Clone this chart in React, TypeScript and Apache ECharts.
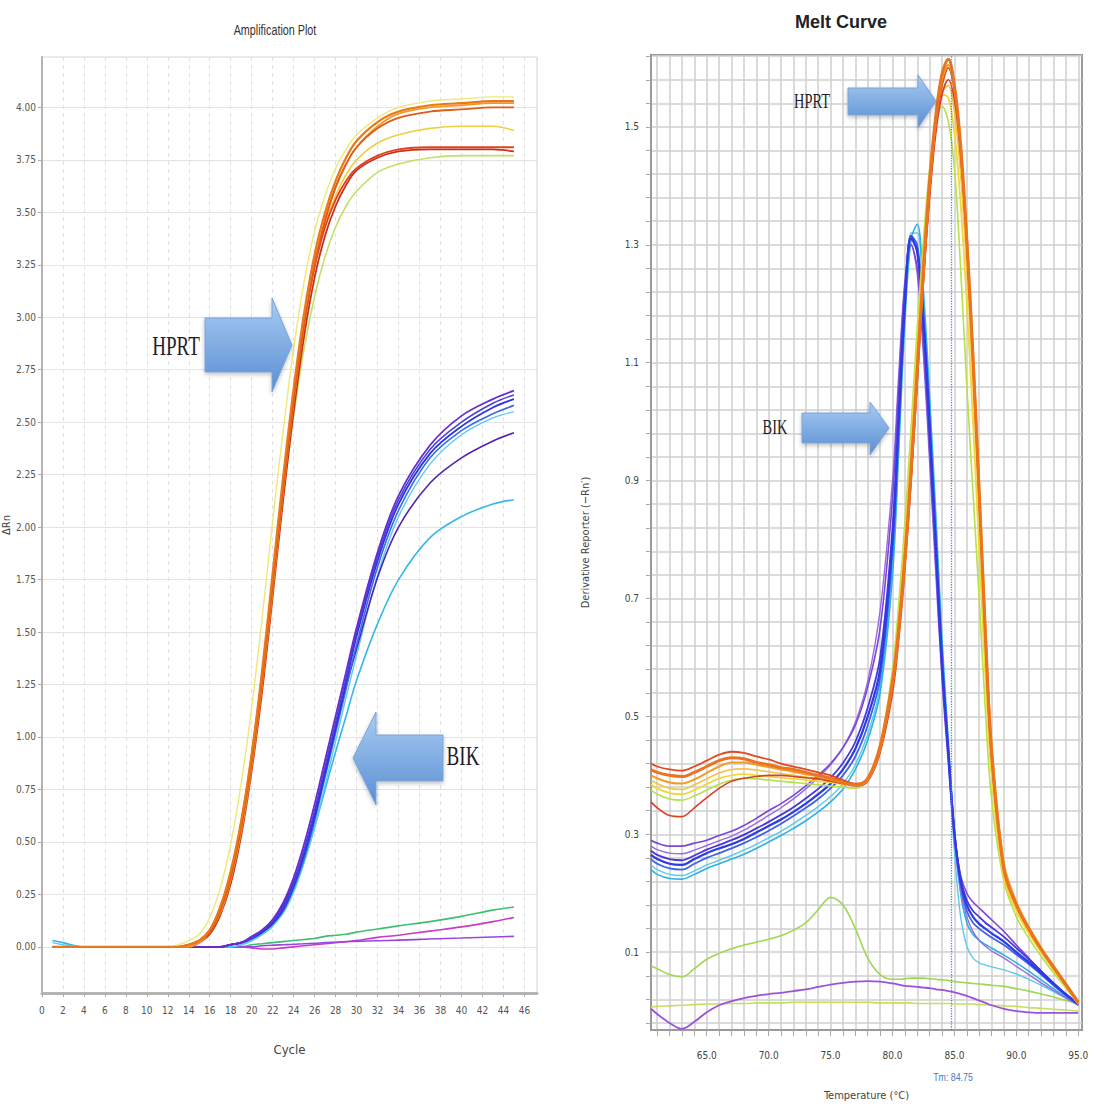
import React, { useEffect, useRef } from "react";
import * as echarts from "echarts";

// ---------- Amplification plot data ----------
const ampCycles = [1, 2, 4, 8, 12, 13, 14, 15, 16, 17, 18, 19, 20, 21, 22, 23, 24, 25, 26, 27, 28, 29, 30, 32, 34, 37, 40, 43, 45];
const ampYTicks = [0, 0.25, 0.5, 0.75, 1, 1.25, 1.5, 1.75, 2, 2.25, 2.5, 2.75, 3, 3.25, 3.5, 3.75, 4];

const ampH1 = [0, 0, 0, 0, 0, 0, 0.01, 0.03, 0.08, 0.19, 0.36, 0.6, 0.92, 1.32, 1.78, 2.24, 2.66, 3.02, 3.3, 3.5, 3.65, 3.76, 3.84, 3.93, 3.98, 4.01, 4.02, 4.03, 4.03];
const ampH2 = [0, 0, 0, 0, 0, 0, 0.01, 0.03, 0.07, 0.17, 0.33, 0.57, 0.88, 1.27, 1.72, 2.18, 2.6, 2.96, 3.25, 3.46, 3.62, 3.73, 3.81, 3.9, 3.95, 3.98, 3.99, 4.0, 4.0];
const ampH3 = [0, 0, 0, 0, 0, 0, 0.01, 0.03, 0.08, 0.18, 0.35, 0.59, 0.91, 1.3, 1.76, 2.21, 2.62, 2.97, 3.24, 3.43, 3.56, 3.65, 3.71, 3.77, 3.8, 3.81, 3.81, 3.81, 3.81];
const ampH4 = [0, 0, 0, 0, 0, 0, 0.0, 0.02, 0.06, 0.15, 0.3, 0.53, 0.84, 1.22, 1.67, 2.13, 2.55, 2.91, 3.19, 3.39, 3.53, 3.63, 3.7, 3.76, 3.79, 3.8, 3.8, 3.8, 3.79];
const ampH5 = [0, 0, 0, 0, 0, 0, 0.01, 0.03, 0.08, 0.19, 0.36, 0.6, 0.92, 1.31, 1.76, 2.21, 2.62, 2.97, 3.24, 3.44, 3.58, 3.68, 3.75, 3.83, 3.87, 3.9, 3.91, 3.91, 3.89];
const ampH6 = [0, 0, 0, 0, 0, 0, 0.01, 0.03, 0.08, 0.18, 0.35, 0.58, 0.9, 1.28, 1.72, 2.15, 2.53, 2.85, 3.1, 3.29, 3.43, 3.53, 3.6, 3.69, 3.73, 3.76, 3.77, 3.77, 3.77];
const ampH7 = [0, 0, 0, 0, 0, 0.01, 0.03, 0.06, 0.14, 0.28, 0.49, 0.78, 1.14, 1.57, 2.03, 2.46, 2.85, 3.17, 3.41, 3.58, 3.71, 3.8, 3.87, 3.95, 4.0, 4.03, 4.04, 4.05, 4.05];
const ampH8 = [0, 0, 0, 0, 0, 0, 0.0, 0.02, 0.07, 0.16, 0.32, 0.55, 0.86, 1.25, 1.7, 2.17, 2.6, 2.97, 3.26, 3.47, 3.62, 3.73, 3.81, 3.91, 3.97, 4.0, 4.01, 4.02, 4.02];

const ampB1 = [0, 0, 0, 0, 0, 0, 0, 0, 0, 0.0, 0.01, 0.02, 0.04, 0.07, 0.11, 0.18, 0.29, 0.44, 0.62, 0.83, 1.04, 1.26, 1.48, 1.84, 2.11, 2.35, 2.48, 2.57, 2.61];
const ampB2 = [0, 0, 0, 0, 0, 0, 0, 0, 0, 0.0, 0.01, 0.02, 0.05, 0.08, 0.13, 0.21, 0.33, 0.49, 0.68, 0.89, 1.1, 1.31, 1.52, 1.88, 2.15, 2.39, 2.53, 2.61, 2.65];
const ampB3 = [0, 0, 0, 0, 0, 0, 0, 0, 0, 0.0, 0.01, 0.02, 0.04, 0.07, 0.12, 0.2, 0.31, 0.46, 0.64, 0.84, 1.04, 1.24, 1.42, 1.76, 2.0, 2.21, 2.33, 2.41, 2.45];
const ampB4 = [0.03, 0.02, 0.0, 0, 0, 0, 0, 0, 0, 0.0, 0.0, 0.01, 0.03, 0.06, 0.1, 0.17, 0.27, 0.41, 0.57, 0.75, 0.93, 1.1, 1.27, 1.54, 1.75, 1.95, 2.05, 2.11, 2.13];
const ampB5 = [0.02, 0.01, 0, 0, 0, 0, 0, 0, 0, 0.0, 0.0, 0.01, 0.03, 0.06, 0.1, 0.16, 0.26, 0.4, 0.57, 0.77, 0.98, 1.19, 1.39, 1.77, 2.05, 2.3, 2.44, 2.52, 2.55];
const ampB6 = [0, 0, 0, 0, 0, 0, 0, 0, 0, 0.0, 0.01, 0.02, 0.04, 0.07, 0.11, 0.17, 0.28, 0.42, 0.6, 0.81, 1.02, 1.23, 1.44, 1.81, 2.08, 2.33, 2.46, 2.54, 2.58];
const ampB7 = [0, 0, 0, 0, 0, 0, 0, 0, 0, 0.0, 0.01, 0.02, 0.04, 0.08, 0.12, 0.19, 0.3, 0.46, 0.65, 0.86, 1.07, 1.28, 1.5, 1.86, 2.13, 2.37, 2.5, 2.59, 2.63];

const ampL1 = [0, 0, 0, 0, 0, 0, 0, 0, 0, 0, 0, 0.0, 0.01, 0.015, 0.02, 0.025, 0.03, 0.035, 0.04, 0.05, 0.055, 0.06, 0.07, 0.085, 0.1, 0.12, 0.145, 0.175, 0.19];
const ampL2 = [0, 0, 0, 0, 0, 0, 0, 0, 0, 0, 0, 0.0, -0.005, -0.01, -0.01, -0.005, 0.0, 0.005, 0.01, 0.015, 0.02, 0.025, 0.03, 0.045, 0.055, 0.075, 0.095, 0.12, 0.14];
const ampL3 = [0, 0, 0, 0, 0, 0, 0, 0, 0, 0, 0, 0.0, 0.0, 0.005, 0.008, 0.01, 0.012, 0.015, 0.017, 0.02, 0.022, 0.024, 0.026, 0.029, 0.032, 0.037, 0.042, 0.047, 0.05];

// ---------- Melt curve data ----------
const meltTemps = [60.5, 61, 62, 63, 64, 65, 66, 67, 68, 69, 70, 71, 72, 73, 74, 75, 76, 77, 78, 79, 80, 80.5, 81, 81.5, 82, 82.5, 83, 83.5, 84, 84.5, 85, 85.5, 86, 86.5, 87, 87.5, 88, 89, 90, 91, 92, 93, 94, 95];
const meltXTicks = [61, 62, 63, 64, 65, 66, 67, 68, 69, 70, 71, 72, 73, 74, 75, 76, 77, 78, 79, 80, 81, 82, 83, 84, 85, 86, 87, 88, 89, 90, 91, 92, 93, 94, 95];
const meltXLabels = [65, 70, 75, 80, 85, 90, 95];
const meltYTicks = [-0.02, 0.02, 0.06, 0.1, 0.14, 0.18, 0.22, 0.26, 0.3, 0.34, 0.38, 0.42, 0.46, 0.5, 0.54, 0.58, 0.62, 0.66, 0.7, 0.74, 0.78, 0.82, 0.86, 0.9, 0.94, 0.98, 1.02, 1.06, 1.1, 1.14, 1.18, 1.22, 1.26, 1.3, 1.34, 1.38, 1.42, 1.46, 1.5, 1.54, 1.58, 1.62];
const meltYLabels = [0.1, 0.3, 0.5, 0.7, 0.9, 1.1, 1.3, 1.5];
const tmValue = 84.75;

const meltH1 = [0.41, 0.405, 0.4, 0.398, 0.405, 0.415, 0.425, 0.43, 0.428, 0.422, 0.418, 0.413, 0.41, 0.405, 0.4, 0.395, 0.388, 0.384, 0.395, 0.45, 0.56, 0.65, 0.77, 0.92, 1.09, 1.26, 1.41, 1.52, 1.59, 1.615, 1.57, 1.47, 1.31, 1.11, 0.88, 0.64, 0.44, 0.24, 0.18, 0.14, 0.105, 0.075, 0.045, 0.015];
const meltH2 = [0.42, 0.415, 0.41, 0.408, 0.415, 0.425, 0.435, 0.44, 0.438, 0.432, 0.427, 0.42, 0.415, 0.41, 0.405, 0.4, 0.392, 0.386, 0.392, 0.44, 0.54, 0.63, 0.75, 0.9, 1.07, 1.24, 1.39, 1.5, 1.57, 1.6, 1.56, 1.46, 1.3, 1.1, 0.87, 0.63, 0.43, 0.24, 0.18, 0.138, 0.104, 0.073, 0.044, 0.014];
const meltH3 = [0.355, 0.345, 0.332, 0.33, 0.345, 0.362, 0.378, 0.39, 0.395, 0.398, 0.4, 0.4, 0.398, 0.396, 0.394, 0.39, 0.386, 0.382, 0.39, 0.44, 0.55, 0.64, 0.76, 0.9, 1.07, 1.24, 1.38, 1.49, 1.555, 1.58, 1.545, 1.45, 1.3, 1.1, 0.88, 0.65, 0.45, 0.245, 0.182, 0.142, 0.107, 0.076, 0.046, 0.016];
const meltH4 = [0.385, 0.378, 0.37, 0.368, 0.375, 0.385, 0.395, 0.4, 0.402, 0.4, 0.398, 0.396, 0.394, 0.392, 0.39, 0.388, 0.385, 0.383, 0.395, 0.45, 0.57, 0.67, 0.8, 0.96, 1.13, 1.29, 1.42, 1.51, 1.555, 1.55, 1.49, 1.37, 1.2, 1.0, 0.78, 0.57, 0.4, 0.225, 0.17, 0.132, 0.1, 0.07, 0.042, 0.013];
const meltH5 = [0.375, 0.368, 0.36, 0.358, 0.365, 0.375, 0.385, 0.392, 0.395, 0.394, 0.392, 0.39, 0.388, 0.386, 0.384, 0.382, 0.38, 0.378, 0.392, 0.45, 0.58, 0.69, 0.83, 0.99, 1.16, 1.31, 1.43, 1.505, 1.535, 1.51, 1.43, 1.26, 1.06, 0.88, 0.7, 0.51, 0.36, 0.22, 0.16, 0.124, 0.093, 0.065, 0.039, 0.012];
const meltH6 = [0.4, 0.395, 0.388, 0.386, 0.393, 0.404, 0.415, 0.422, 0.422, 0.418, 0.414, 0.41, 0.406, 0.402, 0.398, 0.393, 0.387, 0.383, 0.392, 0.445, 0.555, 0.645, 0.765, 0.915, 1.085, 1.255, 1.4, 1.51, 1.58, 1.605, 1.565, 1.47, 1.315, 1.12, 0.895, 0.655, 0.455, 0.25, 0.185, 0.143, 0.108, 0.077, 0.047, 0.016];
const meltH7 = [0.392, 0.386, 0.378, 0.376, 0.384, 0.394, 0.404, 0.41, 0.411, 0.409, 0.406, 0.403, 0.4, 0.397, 0.394, 0.391, 0.387, 0.384, 0.394, 0.448, 0.565, 0.66, 0.785, 0.94, 1.11, 1.275, 1.41, 1.505, 1.56, 1.57, 1.525, 1.42, 1.26, 1.06, 0.84, 0.61, 0.42, 0.232, 0.175, 0.136, 0.102, 0.072, 0.043, 0.014];

const meltB1 = [0.265, 0.258, 0.25, 0.248, 0.258, 0.268, 0.276, 0.283, 0.292, 0.303, 0.314, 0.325, 0.338, 0.352, 0.368, 0.386, 0.41, 0.445, 0.5, 0.58, 0.8, 1.0, 1.2, 1.31, 1.29, 1.17, 0.99, 0.79, 0.59, 0.44, 0.3, 0.22, 0.18, 0.16, 0.148, 0.14, 0.132, 0.118, 0.1, 0.083, 0.065, 0.046, 0.028, 0.012];
const meltB2 = [0.29, 0.285, 0.28, 0.28, 0.285, 0.29, 0.298, 0.305, 0.315, 0.327, 0.34, 0.352, 0.366, 0.382, 0.4, 0.42, 0.447, 0.485, 0.55, 0.65, 0.87, 1.06, 1.23, 1.3, 1.26, 1.13, 0.95, 0.76, 0.57, 0.43, 0.3, 0.23, 0.2, 0.185, 0.175, 0.165, 0.155, 0.135, 0.112, 0.09, 0.068, 0.047, 0.029, 0.013];
const meltB3 = [0.24, 0.232, 0.225, 0.224, 0.232, 0.242, 0.25, 0.258, 0.266, 0.276, 0.287, 0.298, 0.31, 0.323, 0.338, 0.355, 0.377, 0.41, 0.46, 0.54, 0.74, 0.95, 1.17, 1.31, 1.335, 1.22, 1.04, 0.84, 0.63, 0.46, 0.3, 0.2, 0.15, 0.13, 0.12, 0.113, 0.107, 0.095, 0.082, 0.068, 0.053, 0.038, 0.024, 0.01];
const meltB4 = [0.258, 0.25, 0.242, 0.24, 0.25, 0.26, 0.268, 0.276, 0.285, 0.295, 0.306, 0.318, 0.331, 0.345, 0.36, 0.378, 0.4, 0.432, 0.485, 0.565, 0.78, 0.985, 1.19, 1.315, 1.3, 1.185, 1.005, 0.805, 0.605, 0.45, 0.305, 0.215, 0.17, 0.15, 0.14, 0.132, 0.125, 0.112, 0.096, 0.08, 0.062, 0.044, 0.027, 0.011];
const meltB5 = [0.248, 0.24, 0.232, 0.23, 0.238, 0.248, 0.256, 0.264, 0.273, 0.283, 0.294, 0.305, 0.318, 0.332, 0.347, 0.364, 0.386, 0.418, 0.47, 0.55, 0.76, 0.965, 1.18, 1.32, 1.32, 1.2, 1.02, 0.82, 0.61, 0.44, 0.27, 0.16, 0.11, 0.09, 0.082, 0.078, 0.075, 0.07, 0.063, 0.054, 0.044, 0.033, 0.022, 0.01];
const meltB6 = [0.272, 0.265, 0.258, 0.256, 0.264, 0.274, 0.282, 0.29, 0.299, 0.31, 0.321, 0.333, 0.346, 0.361, 0.377, 0.396, 0.421, 0.457, 0.515, 0.6, 0.82, 1.02, 1.215, 1.315, 1.285, 1.16, 0.98, 0.78, 0.585, 0.44, 0.305, 0.225, 0.188, 0.17, 0.16, 0.15, 0.142, 0.126, 0.107, 0.088, 0.068, 0.048, 0.029, 0.012];
const meltB7 = [0.28, 0.274, 0.268, 0.267, 0.273, 0.281, 0.289, 0.297, 0.307, 0.319, 0.332, 0.345, 0.36, 0.377, 0.396, 0.418, 0.447, 0.49, 0.56, 0.68, 0.9, 1.08, 1.24, 1.3, 1.25, 1.11, 0.93, 0.74, 0.56, 0.42, 0.29, 0.205, 0.16, 0.135, 0.12, 0.11, 0.102, 0.09, 0.076, 0.062, 0.048, 0.035, 0.022, 0.01];

const meltL1 = [0.076, 0.072, 0.062, 0.058, 0.072, 0.088, 0.098, 0.106, 0.112, 0.117, 0.122, 0.128, 0.137, 0.15, 0.172, 0.193, 0.18, 0.14, 0.09, 0.062, 0.054, 0.054, 0.055, 0.056, 0.056, 0.056, 0.055, 0.054, 0.053, 0.052, 0.05, 0.049, 0.048, 0.047, 0.046, 0.045, 0.044, 0.042, 0.038, 0.034, 0.029, 0.024, 0.018, 0.013];
const meltL2 = [0.004, -0.005, -0.02, -0.03, -0.018, -0.002, 0.01, 0.017, 0.022, 0.026, 0.029, 0.031, 0.034, 0.037, 0.041, 0.045, 0.048, 0.05, 0.051, 0.05, 0.047, 0.045, 0.043, 0.042, 0.041, 0.04, 0.039, 0.037, 0.036, 0.034, 0.032, 0.029, 0.026, 0.022, 0.018, 0.014, 0.01, 0.004, 0.0, -0.002, -0.003, -0.003, -0.003, -0.003];
const meltL3 = [0.007, 0.008, 0.009, 0.01, 0.011, 0.012, 0.012, 0.013, 0.013, 0.014, 0.014, 0.014, 0.015, 0.015, 0.015, 0.015, 0.015, 0.015, 0.015, 0.014, 0.014, 0.014, 0.014, 0.014, 0.013, 0.013, 0.013, 0.013, 0.013, 0.013, 0.012, 0.012, 0.012, 0.012, 0.011, 0.011, 0.01, 0.009, 0.008, 0.006, 0.005, 0.003, 0.002, 0.0];

const NARROW = "'Liberation Sans Narrow', 'DejaVu Sans Condensed', 'Roboto Condensed', sans-serif";

function buildOption() {
  const ampSeries = [
    { d: ampL1, c: "#3cc070", w: 1.6 },
    { d: ampL2, c: "#c43cc8", w: 1.6 },
    { d: ampL3, c: "#9b45e0", w: 1.6 },
    { d: ampB4, c: "#34b8ea", w: 1.6 },
    { d: ampB5, c: "#5ccaf0", w: 1.4 },
    { d: ampB3, c: "#5222b4", w: 1.6 },
    { d: ampB6, c: "#3a6ae8", w: 1.6 },
    { d: ampB1, c: "#3030e0", w: 1.8 },
    { d: ampB7, c: "#4444d8", w: 1.6 },
    { d: ampB2, c: "#6a2ad0", w: 1.8 },
    { d: ampH7, c: "#eee87a", w: 1.4 },
    { d: ampH6, c: "#c4e064", w: 1.6 },
    { d: ampH5, c: "#eed040", w: 1.6 },
    { d: ampH4, c: "#c8301c", w: 1.8 },
    { d: ampH3, c: "#e0401c", w: 1.8 },
    { d: ampH8, c: "#f39a20", w: 1.8 },
    { d: ampH2, c: "#e25a18", w: 1.8 },
    { d: ampH1, c: "#e8781a", w: 2.2 },
  ].map((s, i) => ({
    type: "line",
    name: "amp" + i,
    xAxisIndex: 0,
    yAxisIndex: 0,
    data: ampCycles.map((c, k) => [c, s.d[k]]),
    smooth: 0.35,
    showSymbol: false,
    symbol: "none",
    silent: true,
    lineStyle: { color: s.c, width: s.w },
    z: 3,
  }));

  const meltSeries = [
    { d: meltL3, c: "#c4e060", w: 1.6 },
    { d: meltL2, c: "#9a52d8", w: 1.8 },
    { d: meltL1, c: "#9cd850", w: 1.6 },
    { d: meltB5, c: "#5cc8ee", w: 1.4 },
    { d: meltB3, c: "#2ab2e6", w: 1.6 },
    { d: meltB7, c: "#9a6ae0", w: 1.4 },
    { d: meltB2, c: "#7b45d6", w: 1.6 },
    { d: meltB4, c: "#3d62ee", w: 1.8 },
    { d: meltB6, c: "#4a35dc", w: 1.8 },
    { d: meltB1, c: "#2b3ce0", w: 2.2 },
    { d: meltH5, c: "#b8e04a", w: 1.6 },
    { d: meltH4, c: "#f0d838", w: 1.8 },
    { d: meltH7, c: "#f4c440", w: 1.6 },
    { d: meltH3, c: "#d8402a", w: 1.6 },
    { d: meltH2, c: "#e04a20", w: 1.8 },
    { d: meltH6, c: "#f29a2a", w: 2 },
    { d: meltH1, c: "#ea7420", w: 3 },
  ].map((s, i) => ({
    type: "line",
    name: "melt" + i,
    xAxisIndex: 1,
    yAxisIndex: 1,
    data: meltTemps.map((t, k) => [t, s.d[k]]),
    smooth: 0.35,
    showSymbol: false,
    symbol: "none",
    silent: true,
    lineStyle: { color: s.c, width: s.w },
    z: 3,
  }));

  (meltSeries[0] as any).markLine = {
    silent: true,
    symbol: "none",
    label: { show: false },
    lineStyle: { type: "dotted", color: "#5b84c8", width: 1.3 },
    data: [{ xAxis: tmValue }],
  };

  const arrowFill = () =>
    new echarts.graphic.LinearGradient(0, 0, 0, 1, [
      { offset: 0, color: "#a8ccf2" },
      { offset: 1, color: "#5a8ed3" },
    ]);
  const arrowStyle = () => ({
    fill: arrowFill(),
    stroke: "#7aa3d8",
    lineWidth: 1,
    shadowBlur: 4,
    shadowOffsetY: 2,
    shadowColor: "rgba(0,0,0,0.25)",
  });

  return {
    animation: false,
    backgroundColor: "#ffffff",
    textStyle: { fontFamily: "'Liberation Sans', Arial, sans-serif" },
    grid: [
      { left: 40, top: 57, width: 497, height: 936, show: true, borderColor: "#d6d6d6", borderWidth: 1, backgroundColor: "#ffffff" },
      { left: 651, top: 55, width: 431, height: 975, show: true, borderColor: "#9a9a9a", borderWidth: 2, backgroundColor: "#ffffff" },
    ],
    xAxis: [
      {
        type: "value",
        gridIndex: 0,
        min: 0,
        max: 47.2,
        interval: 2,
        axisLine: { show: true, onZero: false, lineStyle: { color: "#b4b4b4", width: 3 } },
        axisTick: { show: true, length: 4, lineStyle: { color: "#aaaaaa" } },
        axisLabel: { showMaxLabel: false, fontSize: 10, color: "#555", margin: 12, fontFamily: NARROW, formatter: (v: number) => String(v) },
        splitLine: { show: true, lineStyle: { color: "#e0e0e0", type: [4, 4], width: 1 } },
        name: "Cycle",
        nameLocation: "middle",
        nameGap: 50,
        nameTextStyle: { fontSize: 13, color: "#444", fontFamily: NARROW },
      },
      {
        type: "value",
        gridIndex: 1,
        min: 60.5,
        max: 95.3,
        axisLine: { show: true, onZero: false, lineStyle: { color: "#9a9a9a", width: 2 } },
        axisTick: { show: true, length: 6, customValues: meltXTicks, lineStyle: { color: "#aaaaaa" } },
        axisLabel: { customValues: meltXLabels, fontSize: 10, color: "#444", margin: 20, fontFamily: NARROW, formatter: (v: number) => v.toFixed(1) },
        splitLine: { show: true, lineStyle: { color: "#cfcfcf", width: 1.5 } },
        name: "Temperature (°C)",
        nameLocation: "middle",
        nameGap: 60,
        nameTextStyle: { fontSize: 11, color: "#444", fontFamily: NARROW },
      },
    ],
    yAxis: [
      {
        type: "value",
        gridIndex: 0,
        min: -0.22,
        max: 4.24,
        axisLine: { show: true, onZero: false, lineStyle: { color: "#b4b4b4", width: 2 } },
        axisTick: { show: true, length: 4, customValues: ampYTicks, lineStyle: { color: "#aaaaaa" } },
        axisLabel: { customValues: ampYTicks, fontSize: 10, color: "#555", margin: 6, fontFamily: NARROW, formatter: (v: number) => v.toFixed(2) },
        splitLine: { show: true, lineStyle: { color: "#e4e4e4", width: 1 } },
        name: "ΔRn",
        nameLocation: "middle",
        nameGap: 20,
        nameRotate: 90,
        nameTextStyle: { fontSize: 11, color: "#444", fontFamily: NARROW },
      },
      {
        type: "value",
        gridIndex: 1,
        min: -0.032,
        max: 1.622,
        axisLine: { show: true, onZero: false, lineStyle: { color: "#9a9a9a", width: 2 } },
        axisTick: { show: true, length: 5, customValues: meltYTicks, lineStyle: { color: "#aaaaaa" } },
        axisLabel: { customValues: meltYLabels, fontSize: 10, color: "#444", margin: 12, fontFamily: NARROW, formatter: (v: number) => v.toFixed(1) },
        splitLine: { show: true, lineStyle: { color: "#cfcfcf", width: 1.5 } },
        name: "Derivative Reporter (−Rn′)",
        nameLocation: "middle",
        nameGap: 60,
        nameRotate: 90,
        nameTextStyle: { fontSize: 11, color: "#444", fontFamily: NARROW },
      },
    ],
    series: [...ampSeries, ...meltSeries],
    graphic: [
      { type: "text", x: 275, y: 30, scaleX: 0.72, z: 10, style: { text: "Amplification Plot", fontSize: 15, fill: "#333", textAlign: "center", textVerticalAlign: "middle", fontFamily: "'Liberation Sans', Arial, sans-serif" } },
      { type: "text", x: 841, y: 22, z: 10, style: { text: "Melt Curve", fontSize: 18, fontWeight: "bold", fill: "#222", textAlign: "center", textVerticalAlign: "middle", fontFamily: "'Liberation Sans', Arial, sans-serif" } },
      { type: "text", x: 953, y: 1077, scaleX: 0.8, z: 10, style: { text: "Tm: 84.75", fontSize: 11, fill: "#4a78c0", textAlign: "center", textVerticalAlign: "middle", fontFamily: "'Liberation Sans', Arial, sans-serif" } },
      { type: "polygon", z: 20, shape: { points: [[205, 318], [272, 318], [272, 298], [292, 345], [272, 392], [272, 372], [205, 372]] }, style: arrowStyle() },
      { type: "text", x: 176, y: 346, scaleX: 0.68, z: 21, style: { text: "HPRT", fontSize: 28, fill: "#1e1e28", textAlign: "center", textVerticalAlign: "middle", fontFamily: "'Liberation Serif', 'DejaVu Serif', serif" } },
      { type: "polygon", z: 20, shape: { points: [[443, 735], [376, 735], [376, 712], [353, 758], [376, 805], [376, 781], [443, 781]] }, style: arrowStyle() },
      { type: "text", x: 463, y: 756, scaleX: 0.68, z: 21, style: { text: "BIK", fontSize: 28, fill: "#1e1e28", textAlign: "center", textVerticalAlign: "middle", fontFamily: "'Liberation Serif', 'DejaVu Serif', serif" } },
      { type: "polygon", z: 20, shape: { points: [[848, 88], [918, 88], [918, 75], [936, 101], [918, 128], [918, 115], [848, 115]] }, style: arrowStyle() },
      { type: "text", x: 812, y: 101, scaleX: 0.72, z: 21, style: { text: "HPRT", fontSize: 20, fill: "#1e1e28", textAlign: "center", textVerticalAlign: "middle", fontFamily: "'Liberation Serif', 'DejaVu Serif', serif" } },
      { type: "polygon", z: 20, shape: { points: [[802, 413], [870, 413], [870, 402], [889, 428], [870, 455], [870, 443], [802, 443]] }, style: arrowStyle() },
      { type: "text", x: 775, y: 427, scaleX: 0.72, z: 21, style: { text: "BIK", fontSize: 20, fill: "#1e1e28", textAlign: "center", textVerticalAlign: "middle", fontFamily: "'Liberation Serif', 'DejaVu Serif', serif" } },
    ],
  };
}

export default function App() {
  const ref = useRef<HTMLDivElement>(null);
  useEffect(() => {
    if (!ref.current) return;
    const chart = echarts.init(ref.current, null, { renderer: "svg" });
    chart.setOption(buildOption() as any);
    return () => chart.dispose();
  }, []);
  return (
    <div
      ref={ref}
      style={{ position: "absolute", left: 0, top: 0, width: 1093, height: 1109, background: "#fff" }}
    />
  );
}
